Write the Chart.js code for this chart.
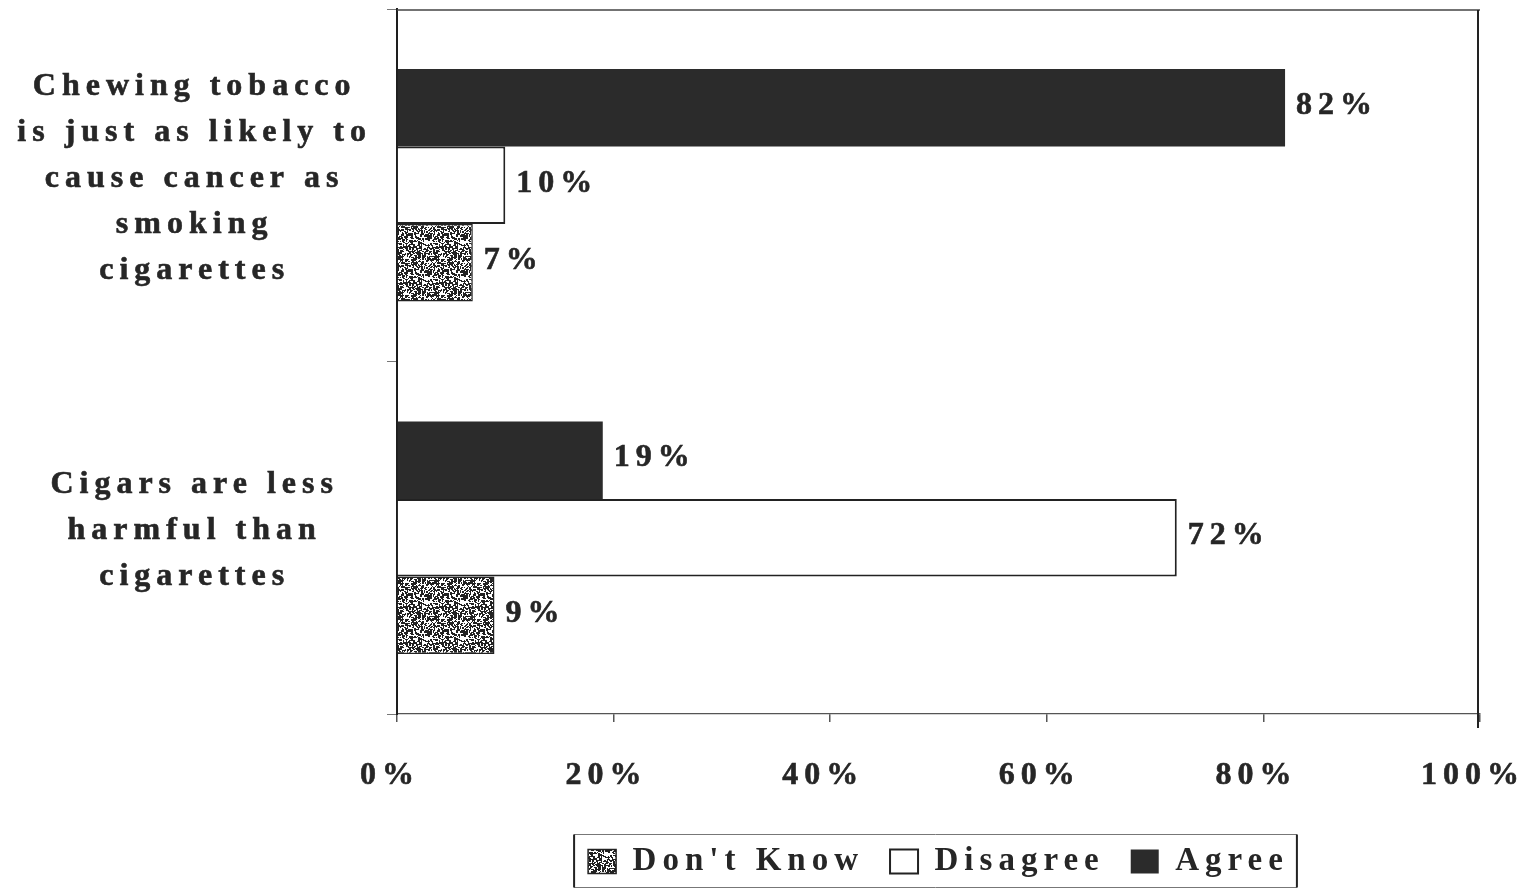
<!DOCTYPE html>
<html>
<head>
<meta charset="utf-8">
<script src="https://cdn.jsdelivr.net/npm/chart.js@4/dist/chart.umd.min.js"></script>
<style>
  html, body { margin: 0; padding: 0; background: #fff; }
  #wrap { width: 1531px; height: 891px; }
</style>
</head>
<body>
<div id="wrap"><canvas id="c" width="1531" height="891"></canvas></div>
<script>
// Survey statements (multi-line axis labels)
const statements = [
  ['Chewing tobacco', 'is just as likely to', 'cause cancer as', 'smoking', 'cigarettes'],
  ['Cigars are less', 'harmful than', 'cigarettes']
];
// Response shares, percent
const agree = [82, 19];
const disagree = [10, 72];
const dontKnow = [7, 9];
const seriesNames = ['Agree', 'Disagree', "Don't Know"];
const xTicks = [0, 20, 40, 60, 80, 100];

const FAMILY = '"Liberation Serif", "Times New Roman", serif';
const FONT = { family: FAMILY, size: 32, weight: 'bold' };
const INK = '#262626';
const TRACK = '6px';

// Speckled fill for the "Don't Know" bars
function stipple() {
  const c = document.createElement('canvas');
  c.width = c.height = 36;
  const g = c.getContext('2d');
  g.fillStyle = '#fff';
  g.fillRect(0, 0, 36, 36);
  g.fillStyle = '#222';
  let s = 24681;
  for (let y = 0; y < 36; y++) {
    for (let x = 0; x < 36; x++) {
      s = (s * 1103515245 + 12345) & 0x7fffffff;
      const r = (s >> 16) % 100;
      if (r < 36) g.fillRect(x, y, 1 + (r % 2), 1 + (r % 3 === 0 ? 1 : 0));
    }
  }
  return g.createPattern(c, 'repeat');
}

const tracking = {
  id: 'tracking',
  beforeUpdate(chart) { chart.ctx.letterSpacing = TRACK; },
  beforeDraw(chart) { chart.ctx.letterSpacing = TRACK; }
};

// Top and right edges of the plot frame
const frame = {
  id: 'frame',
  beforeDatasetsDraw(chart) {
    const { ctx, chartArea: a } = chart;
    ctx.save();
    ctx.strokeStyle = '#444';
    ctx.lineWidth = 1.5;
    ctx.beginPath();
    ctx.moveTo(a.left, a.top + 1);
    ctx.lineTo(a.right, a.top + 1);
    ctx.stroke();
    ctx.lineWidth = 2;
    ctx.strokeStyle = '#222';
    ctx.beginPath();
    ctx.moveTo(a.right - 2, a.top + 1);
    ctx.lineTo(a.right - 2, a.bottom + 14);
    ctx.stroke();
    ctx.restore();
  }
};

// Percent labels at the end of each bar
const valueLabels = {
  id: 'valueLabels',
  afterDatasetsDraw(chart) {
    const { ctx } = chart;
    ctx.save();
    ctx.letterSpacing = TRACK;
    ctx.font = 'bold 32px ' + FAMILY;
    ctx.fillStyle = INK;
    ctx.strokeStyle = INK;
    ctx.lineWidth = 0.6;
    ctx.textAlign = 'left';
    ctx.textBaseline = 'middle';
    chart.data.datasets.forEach((ds, i) => {
      chart.getDatasetMeta(i).data.forEach((bar, j) => {
        const t = ds.data[j] + '%';
        ctx.fillText(t, bar.x + 11, bar.y - 2);
        ctx.strokeText(t, bar.x + 11, bar.y - 2);
      });
    });
    ctx.restore();
  }
};

// Box drawn around the legend entries
const legendBox = {
  id: 'legendBox',
  afterDraw(chart) {
    const hb = chart.legend && chart.legend.legendHitBoxes;
    if (!hb || !hb.length) return;
    const { ctx } = chart;
    const last = hb[hb.length - 1];
    const l = hb[0].left - 14, r = last.left + last.width + 8;
    const cy = hb[0].top + hb[0].height / 2;
    const t = cy - 27, b = cy + 26;
    ctx.save();
    ctx.strokeStyle = '#777';
    ctx.lineWidth = 1;
    ctx.beginPath();
    ctx.moveTo(l, t); ctx.lineTo(r, t);
    ctx.moveTo(l, b); ctx.lineTo(r, b);
    ctx.stroke();
    ctx.strokeStyle = '#222';
    ctx.lineWidth = 2;
    ctx.beginPath();
    ctx.moveTo(l, t); ctx.lineTo(l, b);
    ctx.moveTo(r, t); ctx.lineTo(r, b);
    ctx.stroke();
    ctx.restore();
  }
};

new Chart(document.getElementById('c'), {
  type: 'bar',
  data: {
    labels: statements,
    datasets: [
      { label: seriesNames[0], data: agree, backgroundColor: '#2b2b2b', borderColor: '#2b2b2b', borderWidth: 0 },
      { label: seriesNames[1], data: disagree, backgroundColor: '#ffffff', borderColor: '#222', borderWidth: 2 },
      { label: seriesNames[2], data: dontKnow, backgroundColor: stipple(), borderColor: '#222', borderWidth: 1.5 }
    ]
  },
  options: {
    indexAxis: 'y',
    responsive: false,
    animation: false,
    devicePixelRatio: 1,
    categoryPercentage: 0.66,
    barPercentage: 1.0,
    layout: { padding: { top: 9, left: 0, right: 51, bottom: 3 } },
    scales: {
      x: {
        min: 0, max: 100,
        afterBuildTicks(s) { s.ticks = xTicks.map(v => ({ value: v })); },
        afterFit(s) { s.paddingLeft = 0; s.paddingRight = 0; s.height = 105; },
        ticks: {
          callback: v => v + '%',
          color: INK, font: FONT, padding: 35, labelOffset: -7, maxRotation: 0,
          textStrokeColor: INK, textStrokeWidth: 0.6
        },
        grid: { display: true, drawOnChartArea: false, drawTicks: true, tickLength: 8, color: '#555', lineWidth: 1.5 },
        border: { display: true, color: '#555', width: 1.2 }
      },
      y: {
        afterFit(s) { s.width = 397; s.paddingTop = 0; s.paddingBottom = 0; },
        ticks: {
          color: INK, font: { ...FONT, lineHeight: 46 / 32 }, padding: 15,
          crossAlign: 'center', labelOffset: -7, autoSkip: false,
          textStrokeColor: INK, textStrokeWidth: 0.6
        },
        grid: { display: true, drawOnChartArea: false, drawTicks: true, tickLength: 10, color: '#777', lineWidth: 1 },
        border: { display: true, color: '#1e1e1e', width: 2 }
      }
    },
    plugins: {
      legend: {
        position: 'bottom',
        fullSize: false,
        reverse: true,
        labels: {
          color: INK, font: { ...FONT, size: 33 }, boxWidth: 28, boxHeight: 24, padding: 26
        }
      },
      tooltip: { enabled: false },
      title: { display: false }
    }
  },
  plugins: [tracking, frame, valueLabels, legendBox]
});
</script>
</body>
</html>
